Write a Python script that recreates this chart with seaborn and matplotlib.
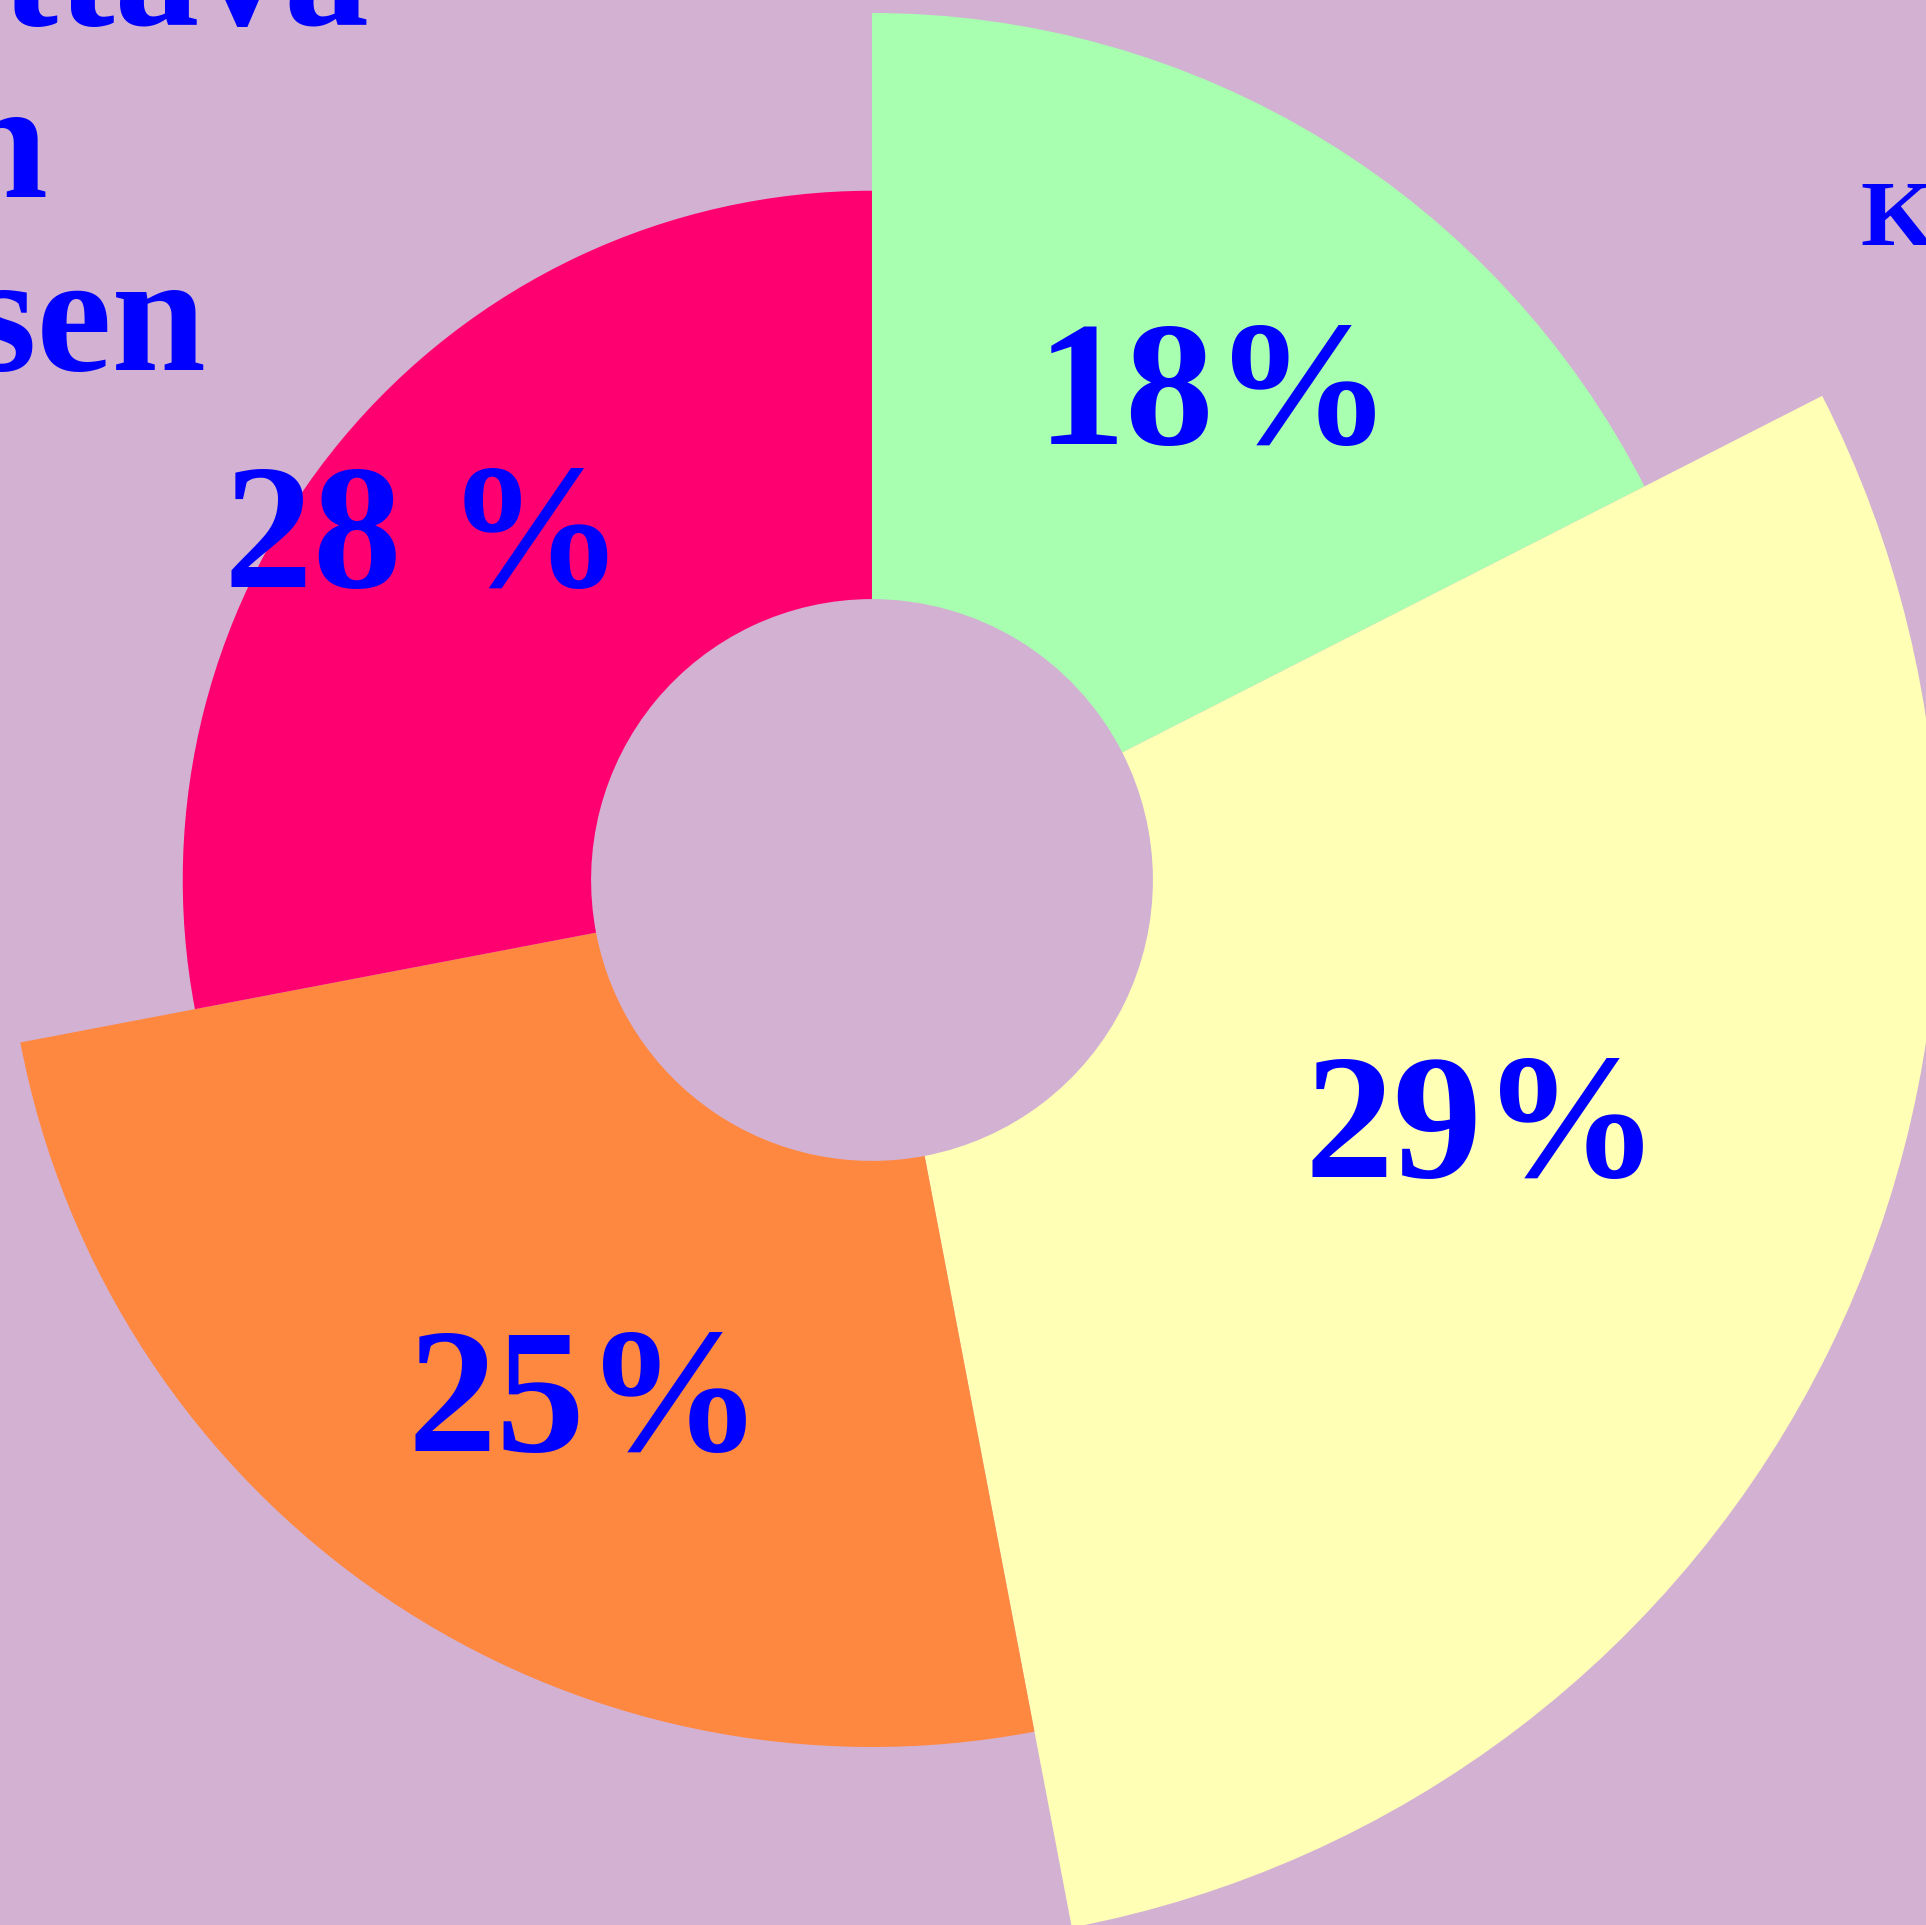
import numpy as np
import matplotlib
matplotlib.use("Agg")
import matplotlib.pyplot as plt
import seaborn as sns

# slice data, clockwise from 12 o'clock
shares = [17.5, 29.5, 25, 28]
labels = ["18%", "29%", "25%", "28 %"]
outer_radius = [1.0, 1.23, 1.0, 0.795]
inner_radius = 0.324
slice_colors = ["#A8FFB0", "#FFFFB5", "#FF8840", "#FF0070"]

# text that sits clipped at the edges of the canvas
side_texts = ["Odotettava", "Mahdollinen", "Satunnaisen"]
corner_text = "Kategoria"

bg = "#D3B1D3"
text_color = "#0000FF"

sns.set_theme(style="white")
plt.rcParams["font.family"] = ["Liberation Serif", "DejaVu Serif"]

fig = plt.figure(figsize=(19.26, 19.25), dpi=100, facecolor=bg)

# polar axes centred at pixel (872, 880) from top-left; half-size 1100 px
half = 1100
cx, cy = 872, 1925 - 880
ax = fig.add_axes([(cx - half) / 1926, (cy - half) / 1925, 2 * half / 1926, 2 * half / 1925],
                  projection="polar")
ax.set_facecolor(bg)
ax.set_theta_zero_location("N")
ax.set_theta_direction(-1)
rmax = half / 867
ax.set_ylim(0, rmax)

fractions = np.array(shares, dtype=float) / np.sum(shares)
widths = fractions * 2 * np.pi
starts = np.concatenate([[0], np.cumsum(widths)[:-1]])
mids = starts + widths / 2

heights = np.array(outer_radius) - inner_radius
ax.bar(mids, heights, width=widths, bottom=inner_radius, color=slice_colors,
       edgecolor="none", linewidth=0, align="center")

# label placement (angle nudge in degrees, radius)
label_nudge = [3.2, -4.75, -5.0, -1.5]
label_r = [0.694, 0.756, 0.677, 0.657]
for theta, nudge, r, lab in zip(mids, label_nudge, label_r, labels):
    ax.annotate(lab, (theta + np.deg2rad(nudge), r), xytext=(0, -11),
                textcoords="offset points", ha="center", va="center",
                fontsize=128, fontweight="bold", color=text_color)

ax.grid(False)
ax.set_xticks([])
ax.set_yticks([])
ax.spines["polar"].set_visible(False)

# clipped legend-like words on the left, right-aligned at their visible end
ends_x = [370, 48, 207]
baselines = [25, 197, 370]
for word, ex, by in zip(side_texts, ends_x, baselines):
    fig.text(ex / 1926, 1 - by / 1925, word, ha="right", va="baseline",
             fontsize=122, fontweight="bold", color=text_color)

fig.text(1860 / 1926, 1 - 245 / 1925, corner_text, ha="left", va="baseline",
         fontsize=68, fontweight="bold", color=text_color)

fig.savefig("out.png", dpi=100, facecolor=bg)
